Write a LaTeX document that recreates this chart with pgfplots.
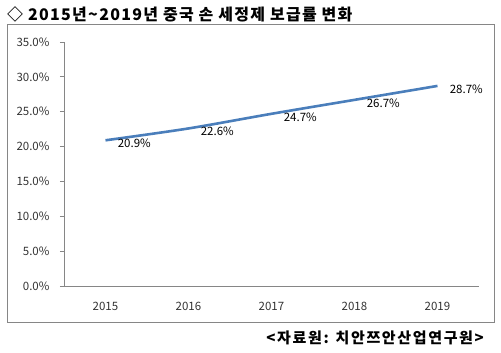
\documentclass[border=0pt]{standalone}
\usepackage{pgfplots}
\pgfplotsset{compat=1.18}
\usepackage{fontspec}
\setmainfont{Noto Sans CJK KR}
\definecolor{linec}{HTML}{4A7EBB}
\definecolor{axc}{HTML}{868686}
\begin{document}
\begin{tikzpicture}[x=1pt,y=1pt]
\path[use as bounding box] (0,0) rectangle (501,353);
\draw[axc, line width=0.8pt] (7,31) rectangle (494,329);
\node[anchor=west, inner sep=0pt, font=\fontsize{16}{18}\selectfont\bfseries\addfontfeatures{LetterSpace=8}] at (7,339) {◇ 2015년\textasciitilde 2019년 중국 손 세정제 보급률 변화};
\node[anchor=east, inner sep=0pt, font=\fontsize{15}{17}\selectfont\bfseries\addfontfeatures{LetterSpace=11}] at (484,15) {<자료원: 치안쯔안산업연구원>};
\begin{axis}[
  at={(64pt,67pt)}, anchor=south west,
  scale only axis, width=415pt, height=244pt,
  xmin=-0.5, xmax=4.5, ymin=0, ymax=35,
  axis x line*=bottom, axis y line*=left,
  axis line style={axc, line width=0.8pt},
  every tick/.style={axc, line width=0.8pt},
  tick align=outside,
  xtick={0,1,2,3,4}, xticklabels={2015,2016,2017,2018,2019},
  major x tick style={draw=none},
  extra x ticks={-0.5,0.5,1.5,2.5,3.5,4.5}, extra x tick labels={},
  extra x tick style={major tick length=4pt, tick style={axc, line width=0.8pt}},
  ytick={0,5,...,35},
  major tick length=4pt,
  yticklabel={\pgfmathprintnumber[fixed,fixed zerofill,precision=1]{\tick}\%},
  /pgf/number format/assume math mode=true,
  ticklabel style={font=\fontsize{11.5}{13}\selectfont, text=black!80},
  xticklabel style={yshift=-9pt},
  yticklabel style={xshift=-7pt},
  clip=false,
  nodes near coords={\pgfmathprintnumber[fixed,fixed zerofill,precision=1]{\pgfplotspointmeta}\%},
  every node near coord/.append style={anchor=west, xshift=10pt, yshift=-3pt, font=\fontsize{11.5}{13}\selectfont, text=black, inner sep=1pt},
]
\addplot[linec, line width=2.6pt, smooth, mark=none, point meta=y] coordinates {
(0,20.9) (1,22.6) (2,24.7) (3,26.7) (4,28.7)
};
\end{axis}
\end{tikzpicture}
\end{document}
